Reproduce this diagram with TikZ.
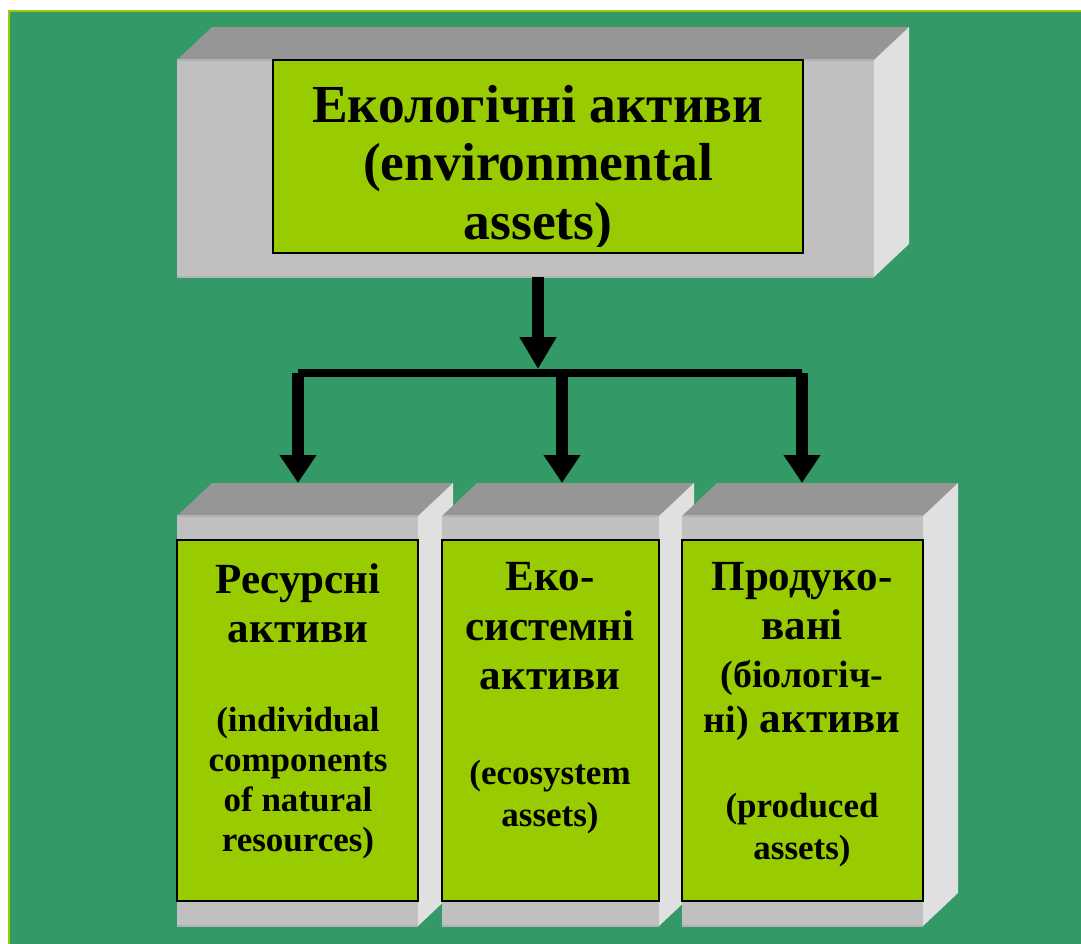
\documentclass[tikz,border=0pt]{standalone}
\usepackage{fontspec}
\setmainfont{Liberation Serif}
\usetikzlibrary{arrows.meta}
\definecolor{fieldgreen}{HTML}{339966}
\definecolor{leafgreen}{HTML}{99CC00}
\definecolor{lidgray}{HTML}{969696}
\definecolor{facegray}{HTML}{C0C0C0}
\definecolor{sidegray}{HTML}{E0E0E0}
\newcommand{\slab}[4]{%
  \fill[lidgray] (#1,#2) -- ++(35,-33) -- (#3+35,#2-33) -- (#3,#2) -- cycle;
  \fill[sidegray] (#3,#2) -- ++(35,-33) -- (#3+35,#4-33) -- (#3,#4) -- cycle;
  \fill[facegray] (#1,#2) rectangle (#3,#4);
  \draw[black!30, line width=1.5] (#1,#2) -- (#3,#2);
  \draw[black!30, line width=1.5] (#1,#4) -- (#3,#4);
}

\begin{document}
\begin{tikzpicture}[x=1pt, y=-1pt,
    title/.style={anchor=base, font=\bfseries\fontsize{53.5}{58}\selectfont},
    head/.style={anchor=base, font=\bfseries\fontsize{43}{50}\selectfont},
    mid/.style={anchor=base, font=\bfseries\fontsize{38}{44}\selectfont},
    note/.style={anchor=base, font=\bfseries\fontsize{35}{40}\selectfont}]
\useasboundingbox (0,0) rectangle (1081,944);
\fill[white] (0,0) rectangle (1081,944);
\fill[fieldgreen] (8,10) rectangle (1081,944);
\draw[leafgreen, line width=2] (9,944) -- (9,11) -- (1081,11);

\slab{177}{60}{874}{277}
\slab{177}{516}{418}{926}
\slab{442}{516}{659}{926}
\slab{682}{516}{923}{926}

\begin{scope}[every node/.style={draw=black, line width=1.5, fill=leafgreen, inner sep=0pt}]
    \node[minimum width=530, minimum height=193] (env) at (538,156.5) {};
    \node[minimum width=241, minimum height=361] (res) at (297.5,720.5) {};
    \node[minimum width=217, minimum height=361] (ecosys) at (550.5,720.5) {};
    \node[minimum width=241, minimum height=361] (prod) at (802.5,720.5) {};
\end{scope}

\begin{scope}
    \clip (273,60) rectangle (803,246);
    \node[title] (env-a) at (538,123) {Екологічні активи};
    \node[title] (env-b) at (538,181) {(environmental};
    \node[title] (env-c) at (538,240) {assets)};
\end{scope}

\node[head] (res-a) at (298,593) {Ресурсні};
\node[head] (res-b) at (298,642) {активи};
\node[note] (res-c) at (298,731) {(individual};
\node[note] (res-d) at (298,771) {components};
\node[note] (res-e) at (298,811) {of natural};
\node[note] (res-f) at (298,851) {resources)};

\node[head] (eco-a) at (550,590) {Еко-};
\node[head] (eco-b) at (550,640) {системні};
\node[head] (eco-c) at (550,689) {активи};
\node[note] (eco-d) at (550,784) {(ecosystem};
\node[note] (eco-e) at (550,826) {assets)};

\node[head] (prod-a) at (802,590) {Продуко-};
\node[head] (prod-b) at (802,639) {вані};
\node[mid] (prod-c) at (802,687) {(біологіч-};
\node[head] (prod-d) at (802,732) {{\fontsize{38}{44}\selectfont ні)} активи};
\node[note] (prod-e) at (802,817) {(produced};
\node[note] (prod-f) at (802,859) {assets)};

\coordinate (env-foot) at (538,277);
\coordinate (split) at (538,373);
\coordinate (bar-l) at (298,373);
\coordinate (bar-m) at (562,373);
\coordinate (bar-r) at (802,373);
\coordinate (res-in) at (298,483);
\coordinate (eco-in) at (562,483);
\coordinate (prod-in) at (802,483);

\begin{scope}[>={Triangle[width=35pt,length=28pt]},
              every edge/.style={draw=black, line width=12}]
    \path [-] (bar-l) edge[line width=8] (bar-r);
    \path [-{Triangle[width=35pt,length=32pt]}] (env-foot) edge[shorten >=4pt] (split);
    \path [->] (bar-l) edge (res-in);
    \path [->] (bar-m) edge (eco-in);
    \path [->] (bar-r) edge (prod-in);
\end{scope}
\end{tikzpicture}
\end{document}
